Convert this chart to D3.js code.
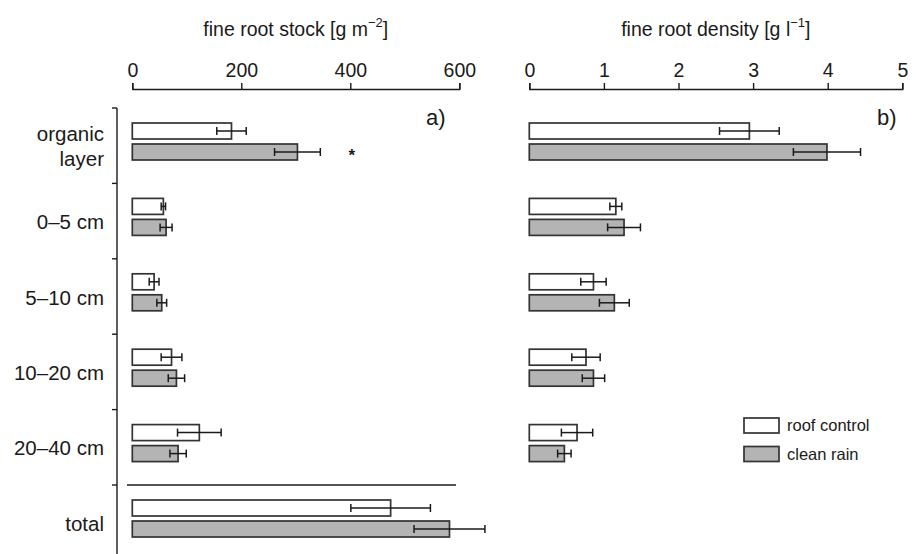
<!DOCTYPE html>
<html>
<head>
<meta charset="utf-8">
<script src="https://cdn.jsdelivr.net/npm/d3@7"></script>
<style>
  body { margin: 0; background: #fff; }
  svg { font-family: "Liberation Sans", Arial, sans-serif; }
</style>
</head>
<body>
<svg></svg>
<script>
// 1. DATA *******************************
const categories = ["organic layer", "0–5 cm", "5–10 cm", "10–20 cm", "20–40 cm", "total"]
const series = ["roof control", "clean rain"]

const stockRoof = [182, 57, 40, 72, 123, 474]
const stockRoofSE = [27, 4, 9, 19, 40, 73]
const stockClean = [303, 62, 54, 81, 84, 582]
const stockCleanSE = [42, 11, 9, 15, 15, 65]

const densityRoof = [2.95, 1.16, 0.86, 0.76, 0.64]
const densityRoofSE = [0.40, 0.08, 0.17, 0.19, 0.21]
const densityClean = [3.99, 1.27, 1.14, 0.86, 0.47]
const densityCleanSE = [0.45, 0.22, 0.20, 0.15, 0.09]

const stockTicks = [0, 200, 400, 600]
const densityTicks = [0, 1, 2, 3, 4, 5]

const ink = "#1a1a1a"
const fills = { "roof control": "#ffffff", "clean rain": "#b4b4b4" }

// 2. CANVAS *******************************
const width = 920
const height = 554

const svg = d3.select("svg")
  .attr("width", width)
  .attr("height", height)

// 3. SCALES *******************************
const yBand = d3.scaleBand()
  .domain(categories)
  .range([108, 108 + 6 * 75.4])

const ySeries = d3.scaleBand()
  .domain(series)
  .range([15, 52])
  .paddingInner(0.238)

const xStock = d3.scaleLinear().domain([0, 600]).range([132.3, 459.3])
const xDensity = d3.scaleLinear().domain([0, 5]).range([529.3, 902.3])

// 4. PANEL DRAWING *******************************
function drawPanel(x, ticks, rows, title, sup, tag) {
  const g = svg.append("g")

  const axis = g.append("g")
    .attr("transform", "translate(0, 89)")
    .call(d3.axisTop(x).tickValues(ticks).tickFormat(d3.format("d"))
      .tickSize(6).tickPadding(6).tickSizeOuter(6))
  axis.selectAll("path, line").attr("stroke", ink).attr("stroke-width", 1.4)
  axis.selectAll("text")
    .attr("fill", ink)
    .attr("font-size", 19.5)
    .attr("font-family", "Liberation Sans, Arial, sans-serif")

  const t = g.append("text")
    .attr("x", (x.range()[0] + x.range()[1]) / 2)
    .attr("y", 36)
    .attr("text-anchor", "middle")
    .attr("fill", ink)
    .attr("font-size", 19.5)
  t.append("tspan").text(title)
  t.append("tspan").attr("dy", -9).attr("font-size", 13).text(sup)
  t.append("tspan").attr("dy", 9).text("]")

  g.append("text")
    .attr("x", tag.x)
    .attr("y", 125)
    .attr("fill", ink)
    .attr("font-size", 22)
    .text(tag.label)

  const row = g.selectAll(".row")
    .data(rows)
    .enter().append("g")
    .attr("transform", d => `translate(0, ${yBand(d.category)})`)

  row.append("rect")
    .attr("x", x(0))
    .attr("y", d => ySeries(d.series))
    .attr("width", d => x(d.value) - x(0))
    .attr("height", ySeries.bandwidth())
    .attr("fill", d => fills[d.series])
    .attr("stroke", "#333")
    .attr("stroke-width", 1.7)

  const err = row.append("g")
    .attr("stroke", ink)
    .attr("stroke-width", 1.5)
  const mid = d => ySeries(d.series) + ySeries.bandwidth() / 2
  err.append("line")
    .attr("x1", d => x(d.value - d.se))
    .attr("x2", d => x(d.value + d.se))
    .attr("y1", mid)
    .attr("y2", mid)
  err.append("line")
    .attr("x1", d => x(d.value - d.se))
    .attr("x2", d => x(d.value - d.se))
    .attr("y1", d => mid(d) - 4)
    .attr("y2", d => mid(d) + 4)
  err.append("line")
    .attr("x1", d => x(d.value + d.se))
    .attr("x2", d => x(d.value + d.se))
    .attr("y1", d => mid(d) - 4)
    .attr("y2", d => mid(d) + 4)

  return g
}

function toRows(roof, roofSE, clean, cleanSE) {
  const rows = []
  roof.forEach((v, i) => {
    rows.push({ category: categories[i], series: series[0], value: v, se: roofSE[i] })
    rows.push({ category: categories[i], series: series[1], value: clean[i], se: cleanSE[i] })
  })
  return rows
}

// 5. LEFT PANEL: STOCK *******************************
const left = drawPanel(
  xStock, stockTicks,
  toRows(stockRoof, stockRoofSE, stockClean, stockCleanSE),
  "fine root stock [g m", "−2", { x: 426, label: "a)" }
)

// category axis
const yAxis = left.append("g")
  .attr("transform", "translate(117, 0)")
  .call(d3.axisLeft(yBand).tickSize(5).tickFormat("").tickSizeOuter(0))
yAxis.select(".domain").attr("d", `M0,${yBand.range()[0]}V${height}`)
yAxis.selectAll("path").attr("stroke", ink).attr("stroke-width", 1.4)
yAxis.selectAll(".tick").remove()

// band boundary ticks
yAxis.selectAll(".bound")
  .data(categories)
  .enter().append("line")
  .attr("x1", -5)
  .attr("x2", 0)
  .attr("y1", d => yBand(d))
  .attr("y2", d => yBand(d))
  .attr("stroke", ink)
  .attr("stroke-width", 1.4)

const labels = left.append("g")
  .attr("fill", ink)
  .attr("font-size", 20.5)
  .attr("text-anchor", "end")
categories.forEach(c => {
  const cy = yBand(c) + yBand.bandwidth() / 2
  const lines = c === "organic layer" ? ["organic", "layer"] : [c]
  lines.forEach((s, j) => {
    labels.append("text")
      .attr("x", 104)
      .attr("y", cy + 8 + (j - (lines.length - 1) / 2) * 25)
      .text(s)
  })
})

// separator above total
left.append("line")
  .attr("x1", 127)
  .attr("x2", 456)
  .attr("y1", yBand("total"))
  .attr("y2", yBand("total"))
  .attr("stroke", ink)
  .attr("stroke-width", 1.4)

// significance mark
left.append("text")
  .attr("x", xStock(403))
  .attr("y", yBand("organic layer") + ySeries("clean rain") + ySeries.bandwidth() / 2 + 9)
  .attr("text-anchor", "middle")
  .attr("fill", ink)
  .attr("font-size", 17)
  .attr("font-weight", "bold")
  .text("*")

// 6. RIGHT PANEL: DENSITY *******************************
drawPanel(
  xDensity, densityTicks,
  toRows(densityRoof, densityRoofSE, densityClean, densityCleanSE),
  "fine root density [g l", "−1", { x: 877, label: "b)" }
)

// 7. LEGEND *******************************
const legend = svg.append("g")
  .attr("transform", "translate(744, 418)")

legend.selectAll("rect")
  .data(series)
  .enter().append("rect")
  .attr("x", 0)
  .attr("y", (d, i) => i * 28.5)
  .attr("width", 35)
  .attr("height", 15)
  .attr("fill", d => fills[d])
  .attr("stroke", "#333")
  .attr("stroke-width", 1.7)

legend.selectAll("text")
  .data(series)
  .enter().append("text")
  .attr("x", 43)
  .attr("y", (d, i) => i * 28.5 + 13)
  .attr("fill", ink)
  .attr("font-size", 16.5)
  .text(d => d)
</script>
</body>
</html>
